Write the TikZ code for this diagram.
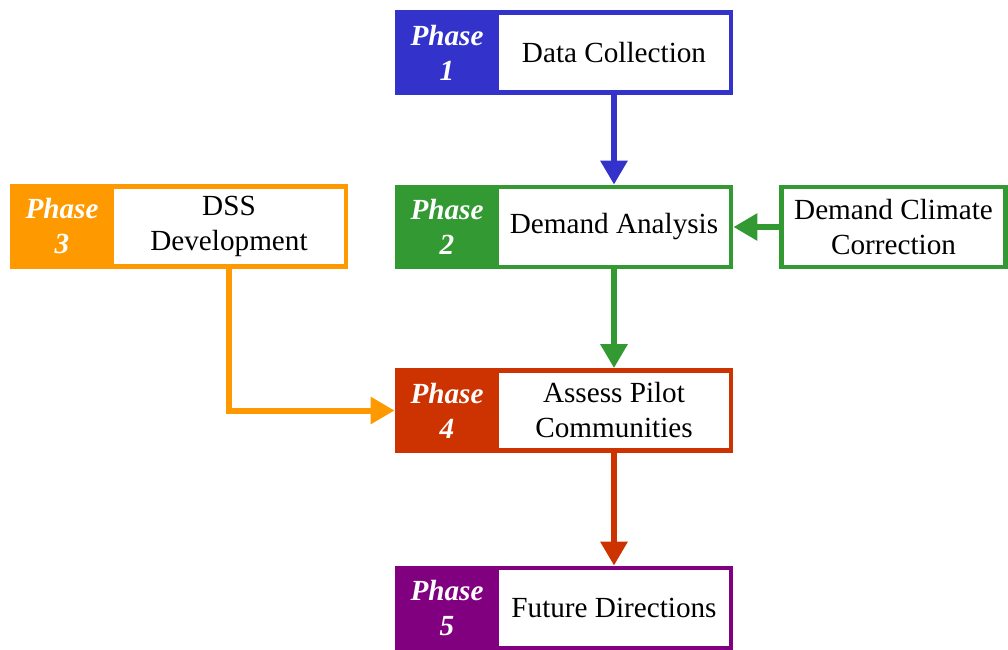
\documentclass[tikz,border=0pt]{standalone}
\usepackage{fontspec}
\setmainfont{Liberation Serif}
\usetikzlibrary{arrows.meta}

\definecolor{phaseblue}{RGB}{51,51,204}
\definecolor{phasegreen}{RGB}{51,153,51}
\definecolor{phaseorange}{RGB}{255,153,0}
\definecolor{phasered}{RGB}{204,51,0}
\definecolor{phasepurple}{RGB}{128,0,128}

\tikzset{
  tag/.style={draw=#1, fill=#1, line width=2.4pt, text=white,
    font=\fontsize{14.6}{17.5}\selectfont\bfseries\itshape, align=center,
    minimum width=50pt, minimum height=40pt, inner sep=0pt},
  box/.style={draw=#1, fill=white, line width=2.4pt, align=center,
    font=\fontsize{14.6}{17.5}\selectfont,
    minimum width=117pt, minimum height=40pt, inner sep=0pt},
  flow/.style={draw=#1, line width=3pt, -{Triangle[width=13pt,length=12pt]}}
}

\begin{document}
\begin{tikzpicture}[x=0.5pt, y=-0.5pt]
  \useasboundingbox (0,0) rectangle (1008,649);

  \node (p1) at (447, 52.5) [tag=phaseblue] {Phase\\1};
  \node (t1) at (614, 52.5) [box=phaseblue] {Data Collection};

  \node (p2) at (447, 227) [tag=phasegreen] {Phase\\2};
  \node (t2) at (614, 227) [box=phasegreen] {Demand Analysis};

  \node (dcc) at (893.5, 227) [box=phasegreen, minimum width=112pt] {Demand Climate\\Correction};

  \node (p3) at (62, 226.5) [tag=phaseorange] {Phase\\3};
  \node (t3) at (229, 226.5) [box=phaseorange] {DSS\\Development};

  \node (p4) at (447, 410.5) [tag=phasered] {Phase\\4};
  \node (t4) at (614, 410.5) [box=phasered] {Assess Pilot\\Communities};

  \node (p5) at (447, 608) [tag=phasepurple] {Phase\\5};
  \node (t5) at (614, 608) [box=phasepurple] {Future Directions};

  \draw[flow=phaseblue] (t1.south) -- (t2.north);
  \draw[flow=phasegreen] (dcc.west) -- (t2.east);
  \draw[flow=phasegreen] (t2.south) -- (t4.north);
  \draw[flow=phaseorange] (t3.south) |- (p4.west);
  \draw[flow=phasered] (t4.south) -- (t5.north);
\end{tikzpicture}
\end{document}
